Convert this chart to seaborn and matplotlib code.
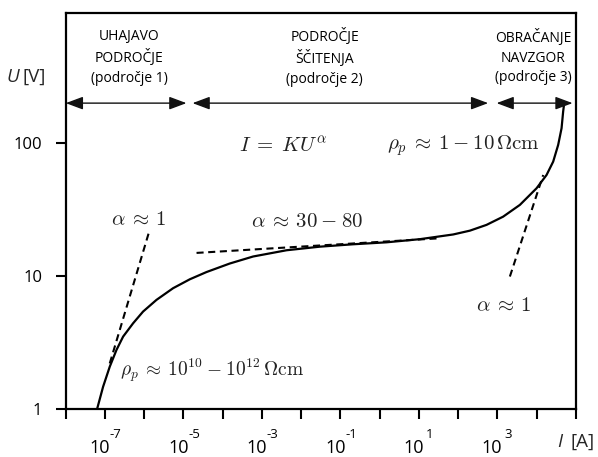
import matplotlib
matplotlib.use("Agg")
import matplotlib.pyplot as plt
import matplotlib.ticker as mticker
import matplotlib.transforms as mtrans
import pandas as pd
import seaborn as sns

# ---- data ----
current_A = [6.28e-8, 8.93e-8, 1.32e-7, 1.96e-7, 2.89e-7, 5.20e-7, 9.33e-7,
             2.05e-6, 5.43e-6, 1.45e-5, 3.86e-5, 1.51e-4, 5.94e-4, 4.23e-3,
             2.99e-2, 0.210, 1.50, 10.6, 74.6, 199, 528, 1400, 3740, 9950,
             17900, 26400, 35400, 43200, 47400, 50400]
voltage_V = [1.0, 1.47, 2.08, 2.78, 3.50, 4.41, 5.40, 6.61, 8.09, 9.44, 10.7,
             12.4, 14.0, 15.6, 16.6, 17.3, 17.9, 18.9, 20.5, 21.9, 24.2, 27.9,
             34.2, 45.6, 57.4, 72.3, 96.6, 129, 172, 199]

left_tangent_I = [1.32e-7, 1.33e-6]
left_tangent_U = [2.2, 21.5]
mid_tangent_I = [2.15e-5, 34]
mid_tangent_U = [14.9, 19.2]
right_tangent_I = [2080, 14700]
right_tangent_U = [9.9, 57.4]

region_starts = [1.0e-8, 1.7e-5, 953]
region_ends = [1.19e-5, 582, 82400]
region_level = 199
region_title_x = [4.1e-7, 4.0e-2, 8260]
region_titles = ["UHAJAVO\nPODROČJE\n(področje 1)",
                 "PODROČJE\nŠČITENJA\n(področje 2)",
                 "OBRAČANJE\nNAVZGOR\n(področje 3)"]

x_tick_exponents = list(range(-8, 6))
x_labelled_exponents = [-7, -5, -3, -1, 1, 3]
y_ticks = [1, 10, 100]
y_tick_labels = ["1", "10", "100"]

# ---- styling ----
sns.set_theme(style="white")
plt.rcParams["font.family"] = ["Open Sans", "DejaVu Sans"]
plt.rcParams["mathtext.fontset"] = "cm"

fig = plt.figure(figsize=(5.98, 4.57), dpi=100)
ax = fig.add_axes([0.110, 0.105, 0.853, 0.867])

curve = pd.DataFrame({"I": current_A, "U": voltage_V})
sns.lineplot(data=curve, x="I", y="U", ax=ax, color="black", lw=1.6,
             estimator=None, sort=False)

for ti, tu in [(left_tangent_I, left_tangent_U), (mid_tangent_I, mid_tangent_U),
               (right_tangent_I, right_tangent_U)]:
    sns.lineplot(x=ti, y=tu, ax=ax, color="black", lw=1.5, estimator=None,
                 sort=False, linestyle=(0, (3.4, 2.2)))

ax.set_xscale("log")
ax.set_yscale("log")
ax.set_xlim(1e-8, 1e5)
ax.set_ylim(1, 950)

ax.xaxis.set_major_locator(mticker.FixedLocator([10.0 ** e for e in x_tick_exponents]))
ax.xaxis.set_minor_locator(mticker.NullLocator())
ax.xaxis.set_major_formatter(mticker.NullFormatter())
ax.yaxis.set_major_locator(mticker.FixedLocator(y_ticks))
ax.yaxis.set_minor_locator(mticker.NullLocator())
ax.set_yticklabels(y_tick_labels)
ax.tick_params(axis="both", which="major", direction="out", length=7, width=1.5,
               color="black", labelsize=12, labelcolor="black", bottom=True, left=True)
ax.tick_params(axis="y", pad=10)
ax.set_xlabel("")
ax.set_ylabel("")
for s in ax.spines.values():
    s.set_color("black")
    s.set_linewidth(1.6)

# x tick labels as 10 with raised exponent
xb = mtrans.blended_transform_factory(ax.transData, ax.transAxes)
for e in x_labelled_exponents:
    ax.annotate("10", xy=(10.0 ** e, 0), xycoords=xb, xytext=(-3.8, -27.9),
                textcoords="offset points", ha="center", va="center",
                fontsize=13, color="black", annotation_clip=False)
    ax.annotate("%d" % e, xy=(10.0 ** e, 0), xycoords=xb, xytext=(7.6, -18.5),
                textcoords="offset points", ha="center", va="center",
                fontsize=9.5, color="black", annotation_clip=False)

# region arrows and titles
for x0, x1, xt, title in zip(region_starts, region_ends, region_title_x, region_titles):
    ax.annotate("", xy=(x1, region_level), xytext=(x0, region_level),
                arrowprops=dict(arrowstyle="<|-|>,head_length=0.75,head_width=0.28",
                                color="#111111", lw=1.0,
                                mutation_scale=14, shrinkA=0, shrinkB=0))
    ax.text(xt, 0.8876, title, transform=xb, ha="center", va="center",
            fontsize=10, linespacing=1.4, color="black")

tc = "#222222"
ax.text(3.4e-3, 93, r"$I \;=\; KU^{\alpha}$", fontsize=15, ha="center", va="center", color=tc)
ax.text(1.43e-2, 25.6, r"$\alpha \:\approx\: 30 \:-\: 80$", fontsize=15, ha="center",
        va="center", color=tc)
ax.text(140, 96, r"$\rho_p \:\approx\: 1 \:-\: 10\,\Omega\mathrm{cm}$", fontsize=15,
        ha="center", va="center", color=tc)
ax.text(7.3e-7, 26.4, r"$\alpha \:\approx\: 1$", fontsize=15, ha="center", va="center", color=tc)
ax.text(1460, 5.95, r"$\alpha \:\approx\: 1$", fontsize=15, ha="center", va="center", color=tc)
ax.text(5.4e-5, 1.96, r"$\rho_p \:\approx\: 10^{10} \:-\: 10^{12}\,\Omega\mathrm{cm}$",
        fontsize=14, ha="center", va="center", color=tc)

fig.text(7 / 598, 1 - 77 / 457, "U", fontsize=13.5, style="italic", ha="left", va="center")
fig.text(22 / 598, 1 - 77 / 457, "[V]", fontsize=13.5, ha="left", va="center")
fig.text(557 / 598, 1 - 442 / 457, "I", fontsize=13.5, style="italic", ha="left", va="center")
fig.text(571 / 598, 1 - 442 / 457, "[A]", fontsize=13.5, ha="left", va="center")

fig.savefig("out.png", dpi=100)
